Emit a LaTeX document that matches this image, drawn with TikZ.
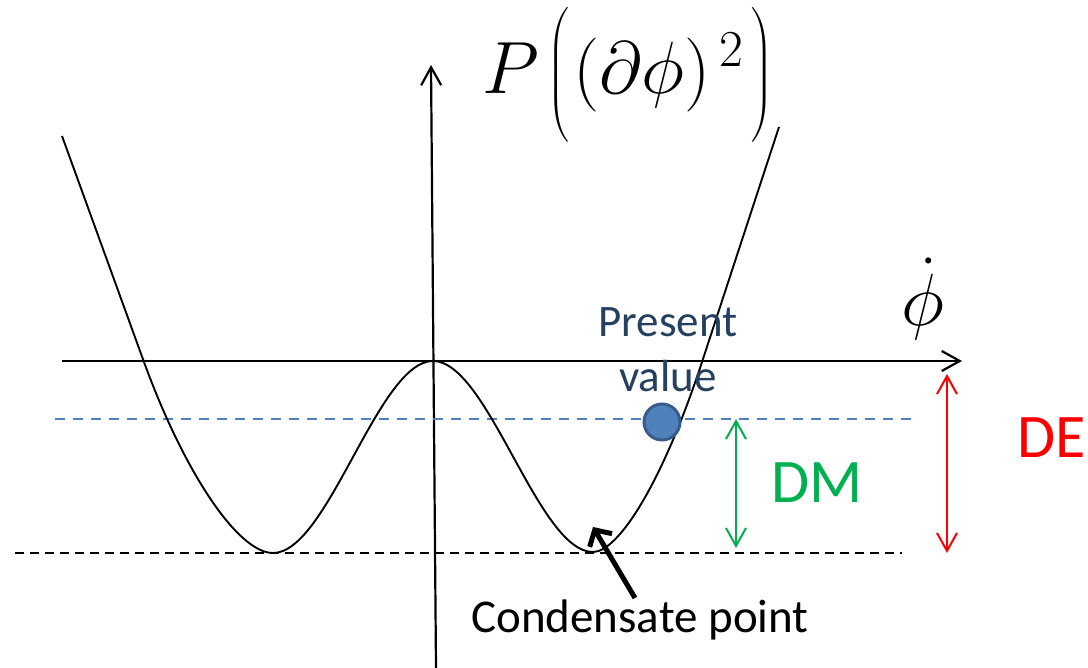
\RequirePackage{fix-cm}
\documentclass[tikz,border=0pt]{standalone}
\usepackage{amsmath}
\usepackage[no-math]{fontspec}
\setmainfont{Carlito}
\usepackage{tikz}
\usetikzlibrary{
	arrows.meta,
	positioning
}
\definecolor{DMGreen}{RGB}{0,176,80}
\definecolor{DERed}{RGB}{255,0,0}
\definecolor{DotBlue}{RGB}{79,129,189}
\definecolor{DotEdge}{RGB}{56,93,138}
\definecolor{TextNavy}{RGB}{37,64,97}

\begin{document}
\begin{tikzpicture}[x=1pt, y=-1pt,
		barb/.style={-{Straight Barb[length=18pt,width=20pt]}},
		dbarb/.style={{Straight Barb[length=18pt,width=20pt]}-{Straight Barb[length=18pt,width=20pt]}},
		lbl/.style={inner sep=0pt}]
		\useasboundingbox (0,0) rectangle (1088,668);
		
		\coordinate (xs) at (62,361);
		\coordinate (xe) at (962,361);
		\coordinate (yb) at (436,668);
		\coordinate (yt) at (431,65);
		\draw[barb, line width=2.2pt] (xs) -- (xe);
		\draw[barb, line width=2.2pt] (yb) -- (yt);
		
		% levels: present value and condensate point
		\draw[dashed, DotBlue, line width=1.4pt, dash pattern=on 10pt off 8pt] (55,419) -- (918,419);
		\draw[dashed, line width=1.4pt, dash pattern=on 9pt off 6pt] (15,553) -- (902,553);
		
		% P((dphi)^2): two wells, maximum at the origin
		\draw[line width=1.9pt] (62,136) -- (144,362)
			.. controls (184,472) and (238,553) .. (273,553)
			.. controls (328,553) and (378,361) .. (433,361)
			.. controls (488,361) and (538,552) .. (593,552)
			.. controls (618,552) and (662,484) .. (702,362)
			-- (779,127);
		
		\node[lbl, font=\fontsize{74}{80}\selectfont] (P) at (628,75) {$P\mkern2mu\Big(\mkern1mu(\partial\phi)^{\mkern3mu 2}\mkern2mu\Big)$};
		\node[lbl, font=\fontsize{74}{80}\selectfont] (phidot) at (923,299) {$\dot\phi$};
		
		\node[circle, fill=DotBlue, draw=DotEdge, line width=3pt, minimum size=36pt, inner sep=0pt] (pv) at (662,422) {};
		\node[lbl, align=center, text=TextNavy, font=\fontsize{45}{55}\selectfont, above=10pt of pv.north, xshift=6pt] (pvtext) {Present\\value};
		
		% DM and DE
		\coordinate (dmt) at (736,419);
		\coordinate (dmb) at (736,548);
		\draw[dbarb, DMGreen, line width=2pt] (dmt) -- (dmb);
		\node[lbl, text=DMGreen, font=\fontsize{62}{70}\selectfont] (DM) at (817,483) {DM};
		\coordinate (det) at (947,374);
		\coordinate (deb) at (947,553);
		\draw[dbarb, DERed, line width=2pt] (det) -- (deb);
		\node[lbl, text=DERed, font=\fontsize{62}{70}\selectfont, anchor=west] (DE) at (1017,438) {DE};
		
		\node[lbl, font=\fontsize{47}{55}\selectfont, anchor=base] (cp) at (640,632) {Condensate point};
		\coordinate (cmin) at (593,527);
		\coordinate (ctail) at (635,598);
		\draw[line width=5pt, -{Straight Barb[length=12pt,width=26pt]}] (ctail) -- (cmin);
	\end{tikzpicture}
\end{document}
